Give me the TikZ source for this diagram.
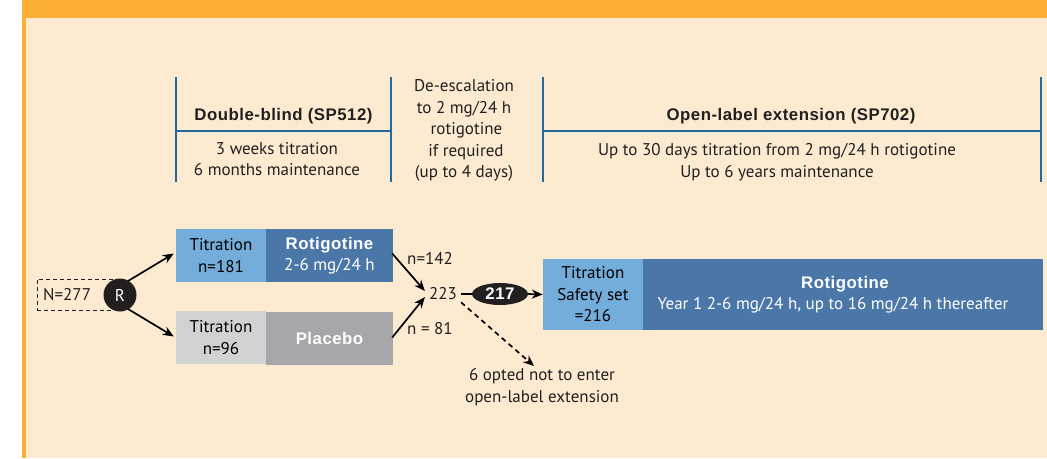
\documentclass[tikz,border=0pt]{standalone}
\usepackage{fontspec}
\setmainfont{PT Sans}
\newfontfamily\hbold{Liberation Sans}[BoldFont=* Bold, LetterSpace=3]
\usetikzlibrary{arrows.meta,shapes.geometric,calc}
\definecolor{orangeH}{HTML}{FBB033}
\definecolor{creamBG}{HTML}{FDEBD1}
\definecolor{lineBlue}{HTML}{24679A}
\definecolor{darkBox}{HTML}{4A77A8}
\definecolor{lightBox}{HTML}{74ADD9}
\definecolor{lightGrey}{HTML}{D1D2D4}
\definecolor{midGrey}{HTML}{A6A7AA}
\definecolor{inkBlack}{HTML}{231F20}
\newcommand{\bfx}{\hbold\bfseries\fontsize{16.8}{19}\selectfont}
\tikzset{
  reg/.style={font=\fontsize{17}{21.5}\selectfont, align=center, text=inkBlack, inner sep=0pt},
  hdr/.style={font=\bfx, text=inkBlack, inner sep=0pt},
  boxx/.style={draw=none, minimum height=53pt, inner sep=0pt, align=center, font=\fontsize{17}{21.5}\selectfont},
  arr/.style={line width=1.7pt, draw=black, -{Stealth[length=11pt,width=9pt]}},
  barline/.style={line width=2.2pt, draw=lineBlue},
}
\begin{document}
\begin{tikzpicture}[x=1pt,y=-1pt]
\useasboundingbox (0,0) rectangle (1047,458);
% background
\fill[orangeH] (22,0) rectangle (1047,17.5);
\fill[orangeH] (22,17.5) rectangle (25.5,458);
\fill[creamBG] (25.5,17.5) rectangle (1047,458);
% header bars
\draw[barline] (176,77) -- (176,181.5);
\draw[barline] (391,77) -- (391,181.5);
\draw[barline] (543,77) -- (543,181.5);
\draw[barline] (1041,77) -- (1041,181.5);
\draw[barline] (176,131) -- (391,131);
\draw[barline] (543,131) -- (1041,131);
\node[hdr] (dbt) at (283.5,116) {Double-blind (SP512)};
\node[reg] (dbs) at (277,159) {3 weeks titration\\6 months maintenance};
\node[reg] (desc) at (464,130.5) {De-escalation\\to 2 mg/24 h\\\hspace*{5pt}rotigotine\\\hspace*{4pt}if required\\(up to 4 days)};
\node[hdr] (olt) at (791,116) {Open-label extension (SP702)};
\node[reg] (ols) at (777,162) {Up to 30 days titration from 2 mg/24 h rotigotine\\Up to 6 years maintenance};
% randomisation
\node[draw=inkBlack, dash pattern=on 4pt off 3pt, line width=1pt, minimum width=75pt, minimum height=31pt, inner sep=0pt] (nbox) at (74.5,294.5) {};
\node[reg, anchor=west] (ntext) at (43,294.5) {N=277};
\node[circle, fill=inkBlack, minimum size=33pt, inner sep=0pt, text=white, font=\fontsize{17}{18}\selectfont] (R) at (120,295) {R};
% double-blind boxes
\node[boxx, fill=lightBox, minimum width=90pt] (lb1) at (221,255.5) {Titration\\n=181};
\node[boxx, fill=darkBox, minimum width=127pt, text=white] (db1) at (329.5,255.5) {{\bfx Rotigotine}\\2-6 mg/24 h};
\node[boxx, fill=lightGrey, minimum width=90pt] (lb2) at (221,337.5) {Titration\\n=96};
\node[boxx, fill=midGrey, minimum width=127pt, text=white, font=\bfx] (db2) at (329.5,338.5) {Placebo};
\draw[arr] ($(R.center)+(8,-14)$) -- ($(lb1.west)+(-2,-2)$);
\draw[arr] ($(R.center)+(8,14)$) -- ($(lb2.west)+(-2,-1)$);
% merge
\node[reg] (n223) at (443,294) {223};
\node[reg, anchor=west] (n142) at (407,258) {n=142};
\node[reg, anchor=west] (n81) at (407,329) {n = 81};
\draw[arr] ($(db1.east)+(-1,-2)$) -- ($(n223.west)+(-4,-3)$);
\draw[arr] ($(db2.east)+(-1,-1)$) -- ($(n223.west)+(-4,3)$);
\node[ellipse, fill=inkBlack, minimum width=56pt, minimum height=22pt, inner sep=0pt, text=white, font=\bfx] (e217) at (500,294) {217};
\draw[line width=1.7pt] ($(n223.east)+(4,0)$) -- (e217.west);
% open-label boxes
\node[boxx, fill=lightBox, minimum width=100pt, minimum height=71pt] (lb3) at (593,294.5) {Titration\\Safety set\\=216};
\node[boxx, fill=darkBox, minimum width=400pt, minimum height=71pt, text=white] (db3) at (843,294.5) {\hspace*{4pt}{\bfx Rotigotine}\\Year 1 2-6 mg/24 h, up to 16 mg/24 h thereafter\hspace*{20pt}};
\draw[arr] (e217.east) -- (lb3.west);
% opted out
\coordinate (optend) at (534,366);
\draw[line width=1.7pt, dash pattern=on 5pt off 4pt, -{Stealth[length=11pt,width=9pt]}] ($(n223.south east)+(4,2)$) -- (optend);
\node[reg] (opt) at (542,387) {6 opted not to enter\\open-label extension};
\end{tikzpicture}
\end{document}
